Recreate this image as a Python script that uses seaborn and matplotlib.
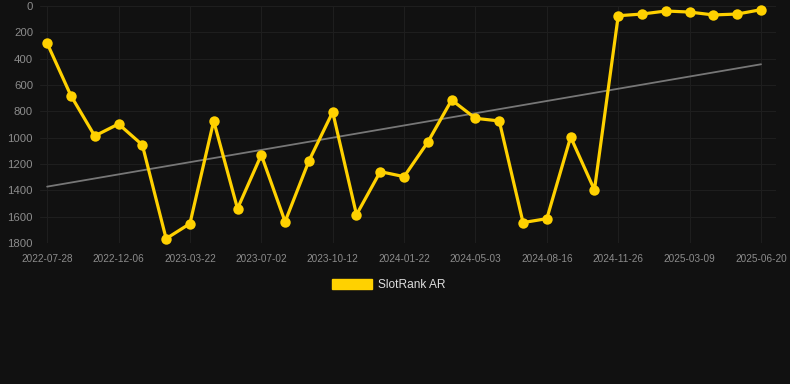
import numpy as np
import pandas as pd
import matplotlib
matplotlib.use("Agg")
import matplotlib.pyplot as plt
from matplotlib.patches import Patch
import seaborn as sns

# === Datos ===
rank_values = [283, 681, 987, 896, 1055, 1767, 1653, 873, 1539, 1131, 1638,
               1177, 805, 1585, 1258, 1296, 1033, 714, 853, 873, 1645, 1615,
               995, 1397, 74, 61, 38, 46, 68, 61, 28]
tick_labels = ["2022-07-28", "2022-12-06", "2023-03-22", "2023-07-02",
               "2023-10-12", "2024-01-22", "2024-05-03", "2024-08-16",
               "2024-11-26", "2025-03-09", "2025-06-20"]
series_name = "SlotRank AR"

df = pd.DataFrame({"idx": np.arange(len(rank_values)), "rank": rank_values})

# === Línea de tendencia (regresión lineal) ===
coef = np.polyfit(df["idx"], df["rank"], 1)
df["trend"] = np.polyval(coef, df["idx"])

# === Estilo ===
bg = "#111111"
yellow = "#FFD100"
sns.set_theme(style="dark")
plt.rcParams["font.family"] = ["Liberation Sans", "DejaVu Sans"]

fig = plt.figure(figsize=(7.9, 3.84), dpi=100, facecolor=bg)
ax = fig.add_axes([40 / 790, 1 - 243 / 384, 736 / 790, 237 / 384])
ax.set_facecolor(bg)

sns.lineplot(data=df, x="idx", y="trend", ax=ax, color="#777777",
             linewidth=1.3, zorder=2)
sns.lineplot(data=df, x="idx", y="rank", ax=ax, color=yellow, linewidth=2.3,
             marker="o", markersize=7.5, markeredgewidth=0, zorder=3)
for ln in ax.lines:
    ln.set_clip_on(False)

ax.set_ylim(1800, 0)
ax.set_xlim(-0.3, 30.63)
ax.set_yticks(range(0, 1801, 200))
ax.set_xticks(range(0, len(rank_values), 3))
ax.set_xticklabels(tick_labels)
ax.set_xlabel("")
ax.set_ylabel("")

ax.grid(True, color="#1e1e1e", linewidth=0.8)
for s in ax.spines.values():
    s.set_visible(False)
ax.tick_params(axis="y", colors="#8c8c8c", labelsize=8.2, length=0, pad=5)
ax.tick_params(axis="x", colors="#8c8c8c", labelsize=7.2, length=5,
               color="#1e1e1e", pad=3)

handle = Patch(facecolor=yellow, edgecolor=yellow)
fig.legend([handle], [series_name], loc="center", bbox_to_anchor=(0.492, 1 - 285 / 384),
           frameon=False, fontsize=8.6, labelcolor="#dddddd",
           handlelength=3.3, handleheight=0.9, handletextpad=0.5)

fig.savefig("out.png", dpi=100, facecolor=bg)
